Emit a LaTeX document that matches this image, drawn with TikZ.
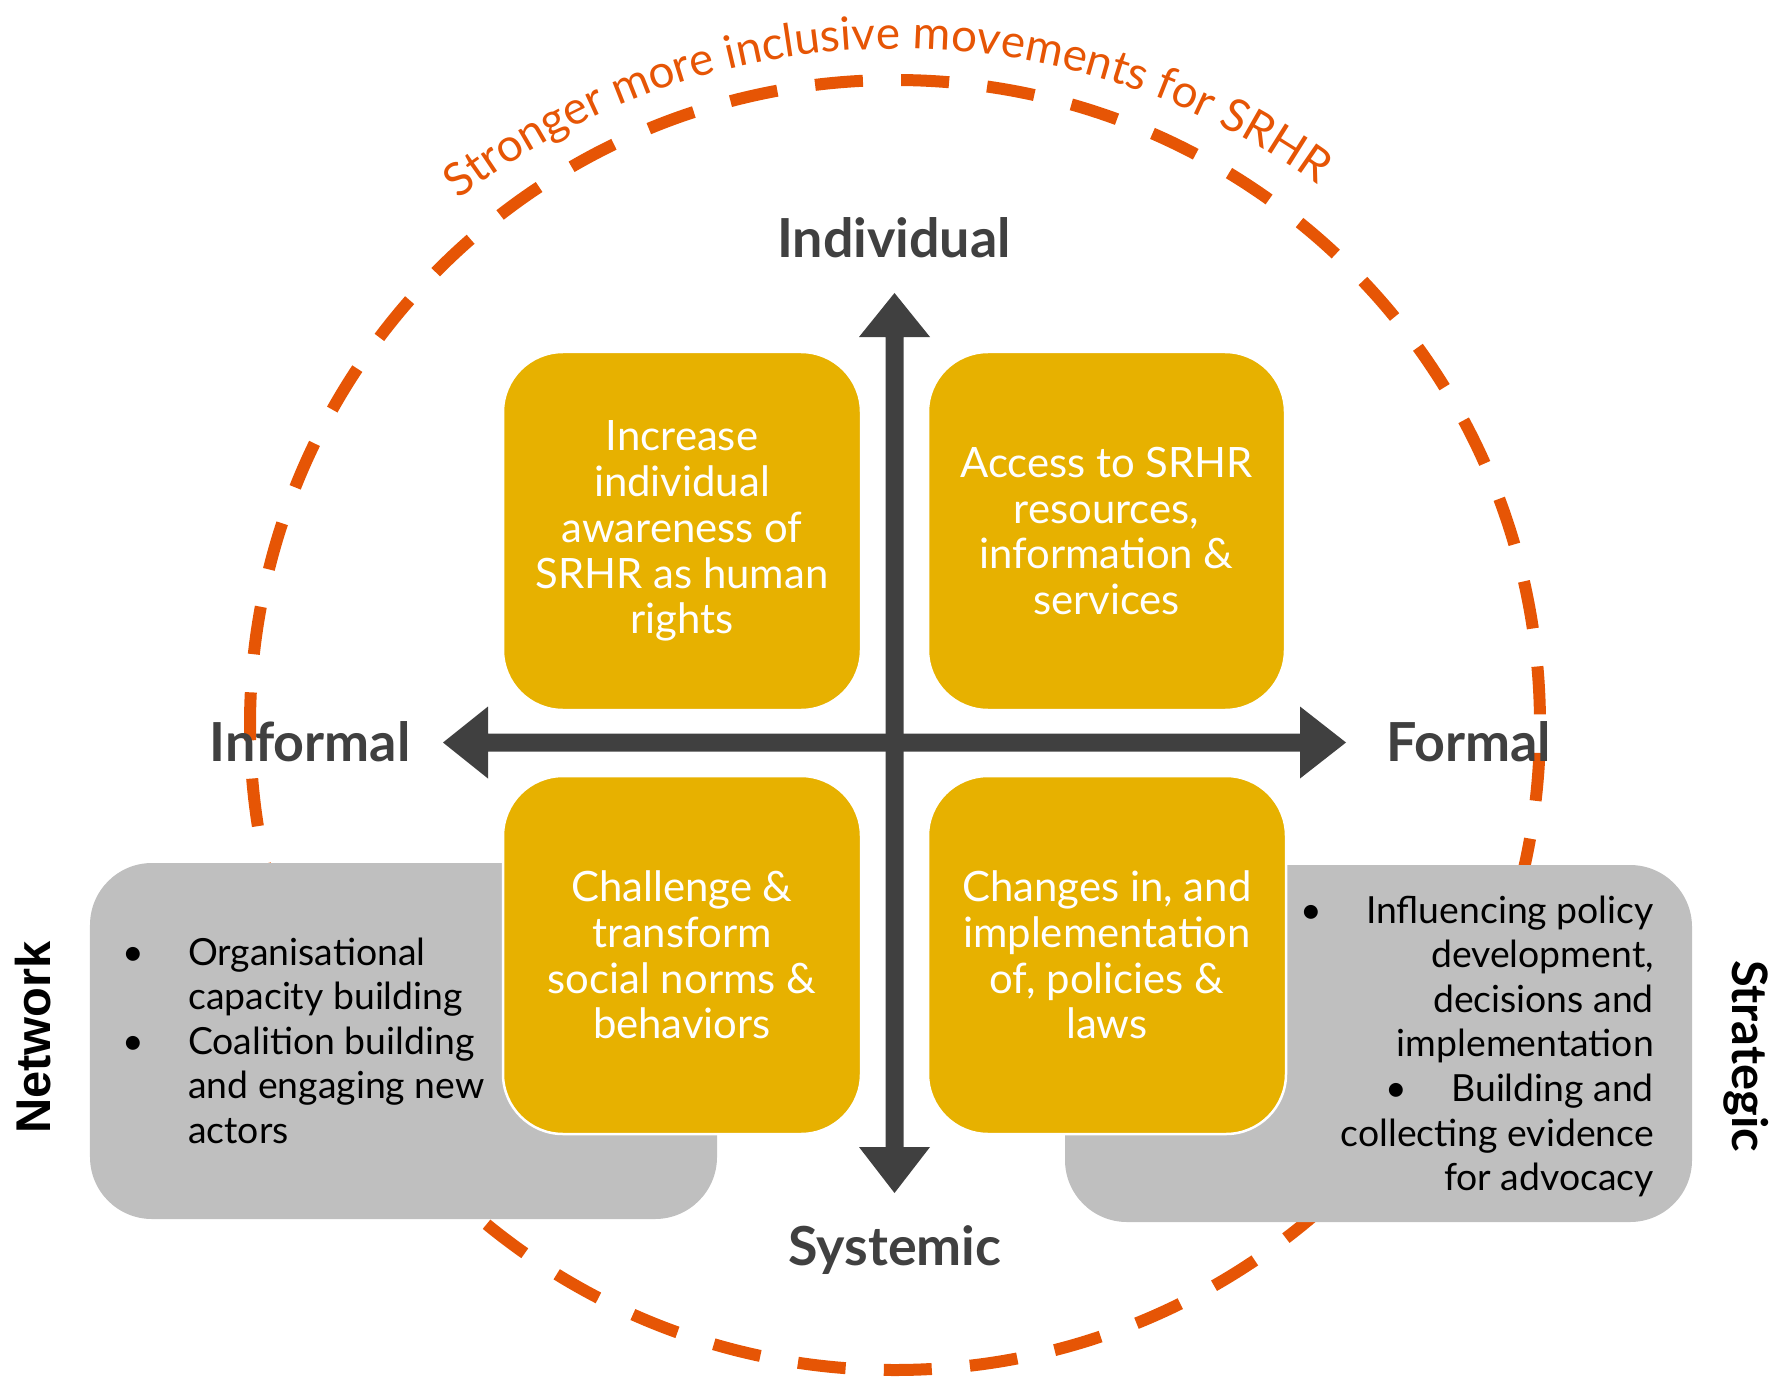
\documentclass[tikz,border=0pt]{standalone}
\usepackage{fontspec}
\setmainfont{Lato}
\newfontfamily\netfont{Liberation Sans}
\usetikzlibrary{decorations.text}
\definecolor{ringorange}{RGB}{230,85,5}
\definecolor{boxgold}{RGB}{231,177,0}
\definecolor{boxgray}{RGB}{191,191,191}
\definecolor{axisgray}{RGB}{64,64,64}
\newcommand\arcfont{\fontsize{46}{46}\selectfont}
\newcommand\bul{\makebox[22bp]{\textbullet}\hspace{44bp}}
\begin{document}
\begin{tikzpicture}[x=1bp,y=1bp,
  goldbox/.style={shape=rectangle, fill=boxgold, draw=white, line width=2.5bp, rounded corners=60bp,
    text=white, align=center, inner sep=0pt, font=\fontsize{42}{46}\selectfont},
  graybox/.style={shape=rectangle, fill=boxgray, rounded corners=62bp, inner sep=0pt},
  graytext/.style={text=black, inner sep=0pt, font=\fontsize{37.5}{44.8}\selectfont},
  axislabel/.style={text=axisgray, inner sep=0pt, font=\fontsize{54}{60}\selectfont\bfseries},
  sidelabel/.style={text=black, inner sep=0pt, anchor=base},
  ring/.style={draw=ringorange, line width=12bp, dash pattern=on 48bp off 38.23bp, dash phase=75.6bp},
  axisarrow/.style={fill=axisgray},
]
\useasboundingbox (0,0) rectangle (1781,-1377);
\coordinate (ringc) at (895,-725);
\coordinate (arcc) at (898,-765);
\draw[ring] (ringc) circle[radius=645];
\path[decorate, decoration={text along path, text align=center, text color=ringorange,
  text={|\arcfont|Stronger more inclusive movements for SRHR}}]
  (arcc) ++(161:716) arc[start angle=161, end angle=21, radius=716];
% gray boxes
\node[graybox, minimum width=627bp, minimum height=356bp] (netbox) at (403.5,-1041) {};
\node[graybox, minimum width=627bp, minimum height=357bp] (stratbox) at (1378.5,-1043.5) {};
% gold boxes
\node[goldbox, minimum width=358bp, minimum height=358bp] (tl) at (682,-531)
  {Increase\\individual\\awareness of\\SRHR as human\\rights};
\node[goldbox, minimum width=357bp, minimum height=358bp] (tr) at (1106.5,-531)
  {Access to SRHR\\resources,\\information \&\\services};
\node[goldbox, minimum width=358bp, minimum height=358bp] (bl) at (682,-955)
  {Challenge \&\\transform\\social norms \&\\behaviors};
\node[goldbox, minimum width=358bp, minimum height=358bp] (br) at (1107,-955)
  {Changes in, and\\implementation\\of, policies \&\\laws};
% axes
\fill[axisarrow] (894.5,-293) -- (930,-337) -- (903.5,-337) -- (903.5,-1147) -- (930,-1147)
  -- (894.5,-1193) -- (859,-1147) -- (885.5,-1147) -- (885.5,-337) -- (859,-337) -- cycle;
\fill[axisarrow] (443,-742.5) -- (488,-706.5) -- (488,-733.5) -- (1300,-733.5) -- (1300,-706.5)
  -- (1346,-742.5) -- (1300,-778.5) -- (1300,-751.5) -- (488,-751.5) -- (488,-778.5) -- cycle;
% axis labels
\node[axislabel, anchor=base] (individual) at (894,-258) {Individual};
\node[axislabel, anchor=base] (systemic) at (895,-1265) {Systemic};
\node[axislabel, anchor=base] (informal) at (310,-761) {Informal};
\node[axislabel, anchor=base] (formal) at (1468.5,-761) {Formal};
% side labels
\node[sidelabel, rotate=90, font=\netfont\bfseries\fontsize{49}{50}\selectfont] (network) at (50,-1037.5) {Network};
\node[sidelabel, rotate=-90, font=\bfseries\fontsize{49}{50}\selectfont] (strategic) at (1732,-1056) {Strategic};
% gray box texts
\node[graytext, anchor=base west] (nettext) at (122,-965)
  {\begin{tabular}[t]{@{}l@{}}
   \bul Organisational\\
   \hspace{66bp}capacity building\\
   \bul Coalition building\\
   \hspace{66bp}and engaging new\\
   \hspace{66bp}actors
   \end{tabular}};
\node[graytext, anchor=base east] (strattext) at (1654,-923)
  {\begin{tabular}[t]{@{}r@{}}
   \bul Influencing policy\\
   development,\\
   decisions and\\
   implementation\\
   \bul Building and\\
   collecting evidence\\
   for advocacy
   \end{tabular}};
\end{tikzpicture}
\end{document}
